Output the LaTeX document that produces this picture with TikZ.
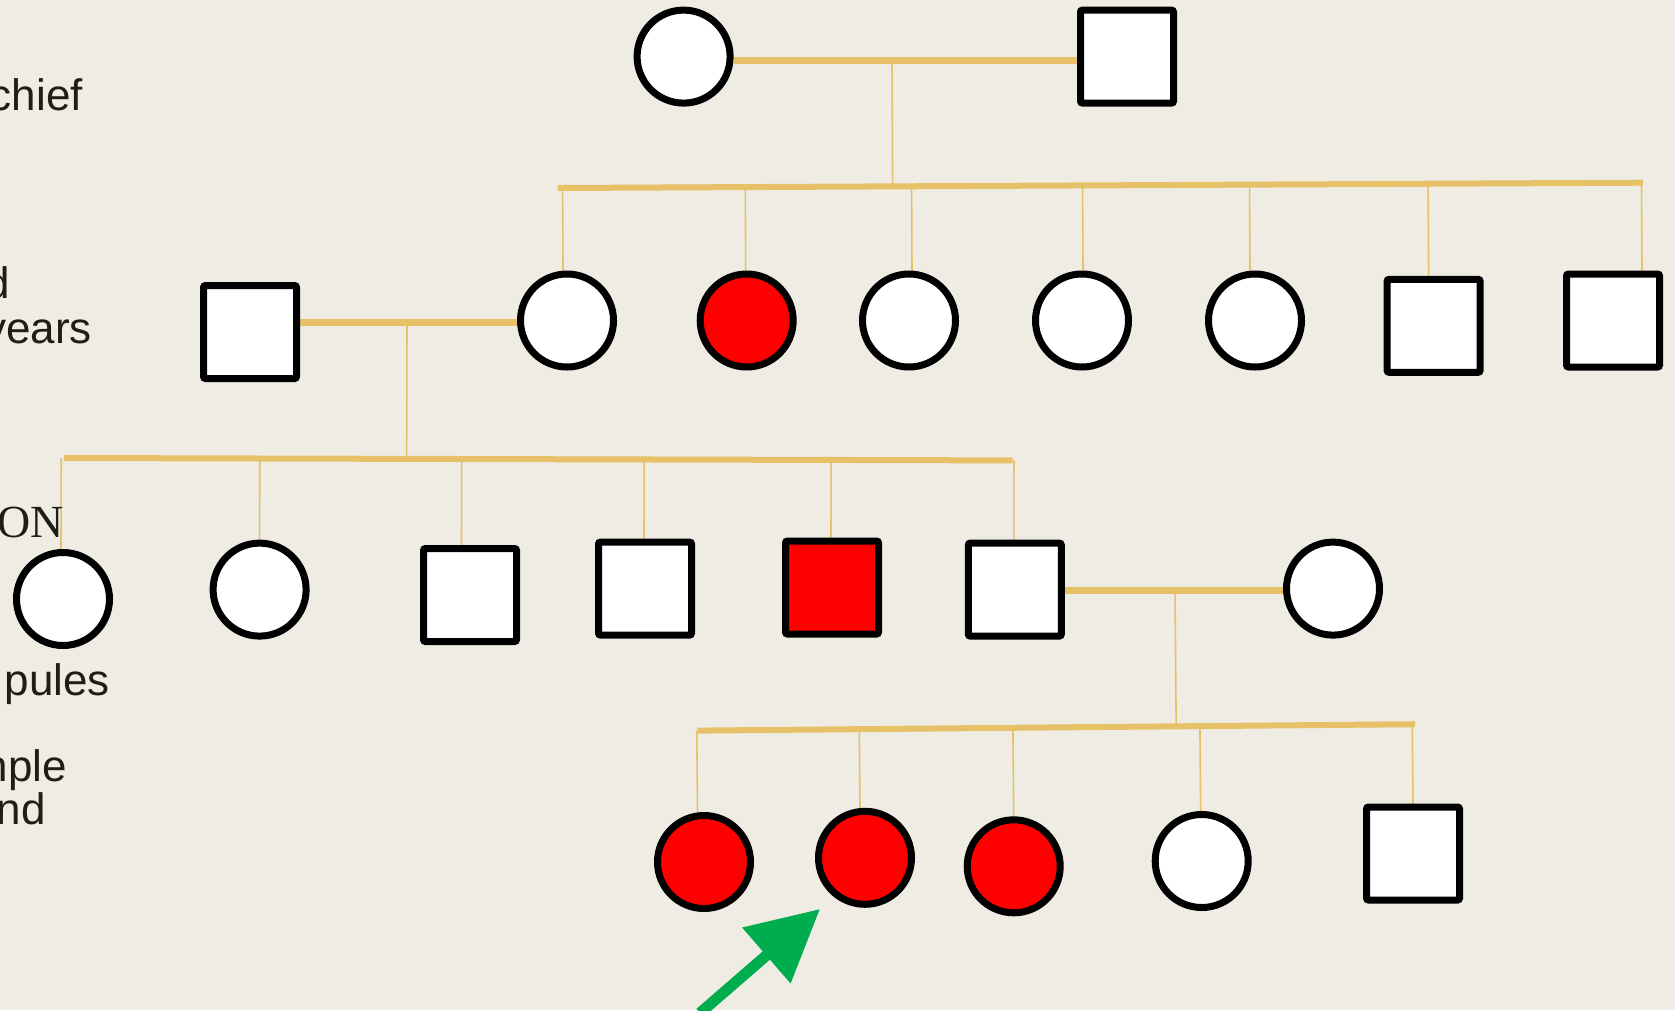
\documentclass[tikz,border=0pt]{standalone}
\usepackage{fontspec}
\setmainfont{Liberation Sans}
\newfontfamily\serifont{Liberation Serif}
\usetikzlibrary{arrows.meta,calc}
\definecolor{bgc}{RGB}{239,236,227}
\definecolor{gold}{RGB}{230,193,104}
\definecolor{txt}{RGB}{30,30,22}
\definecolor{grn}{RGB}{0,173,78}
\pgfdeclarelayer{bglayer}
\pgfdeclarelayer{lines}
\pgfsetlayers{bglayer,lines,main}
\newcommand\dropto[4]{%
  \coordinate (tmpd) at ([xshift=#2pt]#1.north);
  \draw[drop] (tmpd) -- ($(#3)!(tmpd)!(#4)$);}
\begin{document}
\begin{tikzpicture}[x=1pt,y=-1pt,
  fem/.style={circle,draw=black,fill=white,line width=7pt,minimum size=93pt,inner sep=0pt},
  mal/.style={rectangle,draw=black,fill=white,line width=7pt,minimum size=93pt,inner sep=0pt,rounded corners=2pt},
  aff/.style={fill=red},
  marr/.style={draw=gold,line width=6.5pt},
  sib/.style={draw=gold,line width=6pt},
  drop/.style={draw=gold,line width=1.6pt},
  lbl/.style={text=txt,font=\fontsize{44}{48}\selectfont,inner sep=0pt,anchor=base east}
]
\useasboundingbox (0,0) rectangle (1675,1010);
\begin{pgfonlayer}{bglayer}
\fill[bgc] (0,0) rectangle (1675,1010);
\end{pgfonlayer}
\clip (0,0) rectangle (1675,1010);

% labels
\node[lbl] (l1) at (83,110) {chief};
\node[lbl] (l2) at (10,298) {d};
\node[lbl] (l3) at (92,343) {years};
\node[lbl,font=\serifont\fontsize{46}{50}\selectfont] (l4) at (64,537) {ON};
\node[lbl] (l5) at (110,695) {pules};
\node[lbl] (l6) at (67,781) {nple};
\node[lbl] (l7) at (46,824) {nd};

% row 1
\node[fem] (m1) at (683.6,56.6) {};
\node[mal] (f1) at (1127,56.6) {};
% row 2
\node[mal] (h2) at (250,332) {};
\node[fem] (a2) at (567,320.5) {};
\node[fem,aff] (b2) at (746.7,320.5) {};
\node[fem] (c2) at (909,320.5) {};
\node[fem] (d2) at (1082,320.5) {};
\node[fem] (e2) at (1255,320.5) {};
\node[mal] (g2) at (1433.6,325.8) {};
\node[mal] (k2) at (1613,320.5) {};
% row 3
\node[fem] (a3) at (63,599) {};
\node[fem] (b3) at (259.6,589.6) {};
\node[mal] (c3) at (470,595) {};
\node[mal] (d3) at (645,588.6) {};
\node[mal,aff] (e3) at (832,587.5) {};
\node[mal] (f3) at (1014.8,589.6) {};
\node[fem] (w3) at (1333,588.6) {};
% row 4
\node[fem,aff] (a4) at (704,862) {};
\node[fem,aff] (b4) at (865,857.8) {};
\node[fem,aff] (c4) at (1013.7,866.3) {};
\node[fem] (d4) at (1201.7,861) {};
\node[mal] (e4) at (1413,853.5) {};

% coordinates
\coordinate (s1L) at (557.6,188);
\coordinate (s1R) at (1643,182.7);
\coordinate (s2L) at (64,458);
\coordinate (s2R) at (1012.6,460.4);
\coordinate (s3L) at (697.5,730.6);
\coordinate (s3R) at (1415,724.2);
\coordinate (mm1) at (892,60.5);
\coordinate (mm2) at (407,322.6);
\coordinate (mm3) at (1175,590.7);

% arrow
\coordinate (atail) at (700,1013);
\coordinate (atip) at (820,909);
\draw[grn,line width=11pt,-{Triangle[length=71pt,width=71pt]}] (atail) -- (atip);

\begin{pgfonlayer}{lines}
\draw[marr] (m1.east |- mm1) -- (f1.west |- mm1);
\draw[marr] (h2.east |- mm2) -- (a2.west |- mm2);
\draw[marr] (f3.east |- mm3) -- (w3.west |- mm3);
\draw[sib] (s1L) -- (s1R);
\draw[sib] (s2L) -- (s2R);
\draw[sib] (s3L) -- (s3R);
\draw[drop] (mm1) -- ($(s1L)!(mm1)!(s1R)$);
\draw[drop] (mm2) -- ($(s2L)!(mm2)!(s2R)$);
\draw[drop] (mm3) -- ($(s3L)!(mm3)!(s3R)$);
\dropto{a2}{-4}{s1L}{s1R}
\dropto{b2}{-1}{s1L}{s1R}
\dropto{c2}{3}{s1L}{s1R}
\dropto{d2}{1}{s1L}{s1R}
\dropto{e2}{-5}{s1L}{s1R}
\dropto{g2}{-5}{s1L}{s1R}
\dropto{k2}{29}{s1L}{s1R}
\dropto{a3}{-2}{s2L}{s2R}
\dropto{b3}{0}{s2L}{s2R}
\dropto{c3}{-8.5}{s2L}{s2R}
\dropto{d3}{-1}{s2L}{s2R}
\dropto{e3}{-1}{s2L}{s2R}
\dropto{f3}{-1}{s2L}{s2R}
\dropto{a4}{-6.5}{s3L}{s3R}
\dropto{b4}{-5}{s3L}{s3R}
\dropto{c4}{0}{s3L}{s3R}
\dropto{d4}{-1}{s3L}{s3R}
\dropto{e4}{0}{s3L}{s3R}
\end{pgfonlayer}
\end{tikzpicture}
\end{document}
